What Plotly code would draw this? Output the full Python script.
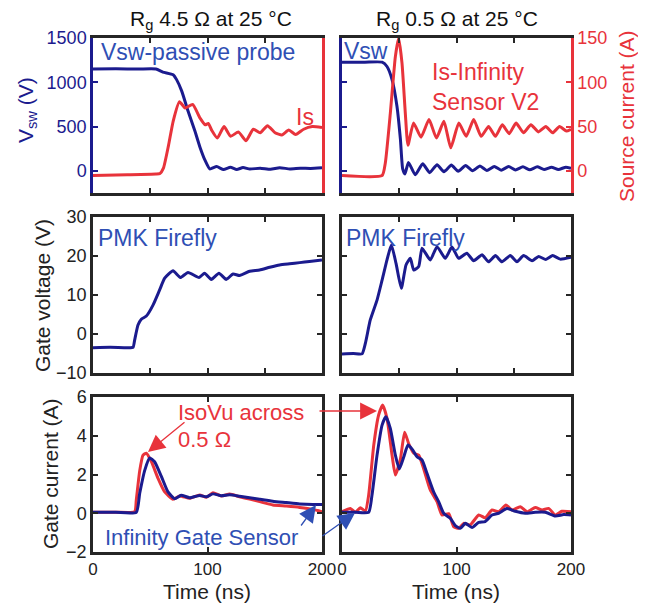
import plotly.graph_objects as go

# page has an 8px body margin: reference pixel coords are shifted by 8
OFF = 8
W, H = 638, 596
NAVY = '#1b1b8e'
RED = '#e8333b'
TXTBLUE = '#2f4fb4'
FRAME = '#262626'
FONT = 'Liberation Sans, Arial, sans-serif'

# ---------------- data (time in ns) ----------------
# Top-left: Vsw (V) and Is (A), Rg 4.5 ohm
t_vsw_l = [0, 20, 40, 55, 61, 70, 73, 77.5, 83, 89, 93.5, 98, 102, 108, 114, 120, 125.5, 131, 137, 146, 155, 163, 172, 181, 190, 200]
v_vsw_l = [1150, 1152, 1150, 1150, 1115, 1085, 1030, 900, 675, 450, 265, 115, 22, 48, 15, 40, 15, 37, 20, 30, 17, 35, 22, 30, 28, 35]
t_is_l = [0, 30, 55, 58.5, 61.5, 66, 70, 75.5, 80.5, 87, 93.5, 98, 100.7, 103.6, 108.6, 114.4, 120.2, 127, 133.6, 140, 146, 152.4, 159, 165, 171, 177, 184, 191.5, 200]
i_is_l = [-5.3, -4.5, -3.6, -3, 3, 29, 56, 78, 71, 75, 59.5, 52, 53.5, 46, 37, 50, 39, 44, 34, 47, 43, 51, 43, 40.6, 46, 41, 47, 50, 49]

# Top-right: Vsw (V) and Is (A), Rg 0.5 ohm
t_vsw_r = [0, 20, 35, 39.3, 43.7, 48, 51, 53, 55, 58, 64, 70.5, 76.5, 83, 89, 95.5, 101.5, 108, 114, 120.5, 126.5, 133, 139, 145.5, 151.5, 158, 164, 170.5, 176.5, 183, 189, 195.5, 200]
v_vsw_r = [1227, 1227, 1227, 1178, 1030, 730, 358, 22, -35, 95, -45, 80, -20, 70, -10, 65, -5, 60, 0, 55, 5, 50, 8, 48, 10, 45, 12, 45, 15, 42, 15, 42, 30]
t_is_r = [0, 35, 37.8, 42.2, 46.6, 49.5, 52.4, 55.3, 57.6, 62.5, 69, 76, 82.5, 89, 95, 102, 108.5, 115, 121.5, 128, 134, 140, 146, 152, 158.5, 165, 171.5, 178, 184, 190, 196, 200]
i_is_r = [-5.3, -5.3, 8.7, 65, 129, 150, 121.6, 65, 29, 54, 38, 58, 37, 56, 26, 54, 39, 58, 39, 50, 39, 52, 42, 54, 43, 52, 44, 50, 43, 50, 45, 47]

# Middle: gate voltage (V)
t_vg_l = [0, 15, 30, 35, 36.4, 39.3, 42.2, 46.6, 52.4, 58.2, 62.6, 69.9, 76.3, 83, 92.6, 97.5, 103.3, 110, 116.4, 122.3, 128, 136.8, 145.5, 154.3, 163, 171.7, 180.5, 189, 200]
vg_l = [-3.5, -3.4, -3.5, -3.4, -1.5, 2.3, 3.8, 4.6, 7.4, 11.3, 14.3, 16.2, 14.5, 15.8, 14.5, 15.6, 14.0, 15.6, 14.0, 15.4, 15.0, 16.1, 16.4, 17.1, 17.7, 18.0, 18.3, 18.6, 19.0]
t_vg_r = [0, 10, 17.5, 20.4, 24.7, 30.6, 35, 39.3, 43.1, 47.2, 51.8, 55.9, 59.7, 62.6, 67, 69.9, 77.1, 83, 90.2, 96, 101.9, 109, 115, 122.3, 128, 134, 139.7, 147, 152.8, 158.6, 166, 171.7, 178, 184, 190.6, 200]
vg_r = [-5.1, -5.0, -5.1, -2.4, 3.6, 8.7, 13.8, 19.0, 22.8, 18.1, 11.7, 17.7, 19.4, 16.4, 17.3, 22.0, 19.0, 22.4, 19.4, 22.3, 19.4, 20.7, 18.8, 20.3, 18.5, 20.1, 18.5, 20.1, 18.5, 20.1, 18.8, 19.9, 19.1, 20.1, 19.2, 19.7]

# Bottom: gate current (A)
t_ig_l_red = [0, 20, 36.4, 37.8, 40.8, 43.7, 46.6, 51, 56.8, 62.6, 69.9, 75.7, 84.4, 93.2, 99, 104.8, 112, 119.4, 128, 136.8, 145.5, 157, 168.8, 180.5, 192, 200]
ig_l_red = [0.05, 0.05, 0.08, 0.68, 2.2, 3.0, 3.1, 2.66, 1.8, 1.1, 0.72, 0.89, 0.77, 0.94, 0.82, 1.06, 0.89, 0.99, 0.85, 0.73, 0.6, 0.43, 0.37, 0.3, 0.2, 0.08]
t_ig_l_blue = [0, 20, 37.8, 40.8, 45.1, 49.5, 53.8, 59.7, 65.5, 71.3, 77, 84.4, 93.2, 99, 104.8, 112, 119.4, 128, 136.8, 145.5, 157, 168.8, 180.5, 192, 200]
ig_l_blue = [0.05, 0.05, 0.05, 1.03, 2.2, 2.85, 2.66, 1.9, 1.1, 0.75, 0.93, 0.8, 0.92, 0.85, 1.0, 0.9, 0.95, 0.88, 0.8, 0.72, 0.62, 0.55, 0.48, 0.45, 0.45]
t_ig_r_red = [0, 7.3, 11.6, 16, 20.4, 23.3, 27.7, 32, 35.5, 39.3, 43.7, 46.6, 51, 54.7, 58.2, 62.6, 67, 71.3, 77.1, 83, 87.3, 93.2, 97.5, 101.9, 106.3, 112, 119.4, 125, 131, 136.8, 143.2, 148.5, 155.7, 161.6, 168.8, 174.7, 180.5, 186.3, 192, 200]
ig_r_red = [0.08, 0.25, 0.05, 0.28, 0.12, 0.94, 3.5, 5.07, 5.59, 4.9, 3.0, 1.97, 2.8, 4.18, 3.6, 3.1, 3.0, 2.3, 1.2, 0.6, -0.09, -0.02, -0.69, -0.78, -0.52, -0.6, -0.09, -0.23, 0.17, 0.08, 0.43, 0.17, 0.34, 0.08, 0.3, 0.17, 0.25, -0.09, 0.1, 0.08]
t_ig_r_blue = [0, 12, 23.3, 26.2, 30.6, 35, 38.4, 42.2, 46.6, 50, 53.9, 57.6, 61.7, 65.5, 69.9, 74.2, 80, 84.4, 88.8, 94.6, 99, 103.3, 107.7, 113.5, 119.4, 125, 131, 136.8, 144, 151.4, 160, 168.8, 177.6, 186.3, 193.6, 200]
ig_r_blue = [0.05, 0.05, 0.05, 0.94, 3.0, 4.55, 4.98, 4.38, 3.0, 2.28, 2.9, 3.52, 3.27, 2.92, 2.75, 2.06, 1.11, 0.6, 0.0, -0.26, -0.64, -0.78, -0.52, -0.74, -0.47, -0.43, -0.09, 0.0, 0.25, 0.1, 0.0, 0.05, 0.05, -0.14, -0.07, -0.09]

# axis tick values
vsw_ticks = [0, 500, 1000, 1500]
is_ticks = [0, 50, 100, 150]
vg_ticks = [-10, 0, 10, 20, 30]
ig_ticks = [-2, 0, 2, 4, 6]
time_ticks = [0, 100, 200]
minor_time_ticks = [0, 50, 100, 150, 200]

# ---------------- figure ----------------
fig = go.Figure()

def line(color):
    return dict(color=color, width=3, shape='spline', smoothing=0.5)

fig.add_trace(go.Scatter(x=t_vsw_l, y=v_vsw_l, xaxis='x', yaxis='y', mode='lines', line=line(NAVY)))
fig.add_trace(go.Scatter(x=t_is_l, y=i_is_l, xaxis='x', yaxis='y2', mode='lines', line=line(RED)))
fig.add_trace(go.Scatter(x=t_vsw_r, y=v_vsw_r, xaxis='x2', yaxis='y3', mode='lines', line=line(NAVY)))
fig.add_trace(go.Scatter(x=t_is_r, y=i_is_r, xaxis='x2', yaxis='y4', mode='lines', line=line(RED)))
fig.add_trace(go.Scatter(x=t_vg_l, y=vg_l, xaxis='x3', yaxis='y5', mode='lines', line=line(NAVY)))
fig.add_trace(go.Scatter(x=t_vg_r, y=vg_r, xaxis='x4', yaxis='y6', mode='lines', line=line(NAVY)))
fig.add_trace(go.Scatter(x=t_ig_l_red, y=ig_l_red, xaxis='x5', yaxis='y7', mode='lines', line=line(RED)))
fig.add_trace(go.Scatter(x=t_ig_l_blue, y=ig_l_blue, xaxis='x5', yaxis='y7', mode='lines', line=line(NAVY)))
fig.add_trace(go.Scatter(x=t_ig_r_red, y=ig_r_red, xaxis='x6', yaxis='y8', mode='lines', line=line(RED)))
fig.add_trace(go.Scatter(x=t_ig_r_blue, y=ig_r_blue, xaxis='x6', yaxis='y8', mode='lines', line=line(NAVY)))

def dx(a, b):
    return [(a - OFF) / W, (b - OFF) / W]

def dy(top, bot):
    return [1 - (bot - OFF) / H, 1 - (top - OFF) / H]

XL, XR = dx(93, 322), dx(342, 571)
YT, YM, YB = dy(38, 193), dy(217, 373), dy(397, 552)

tickfont = dict(family=FONT, size=17, color='#222')

def xax(domain, anchor, tickvals, labels=False):
    return dict(domain=domain, anchor=anchor, range=[0, 200], showline=True, linecolor=FRAME, linewidth=2.5,
                mirror='ticks', ticks='inside', ticklen=5, tickwidth=2, tickcolor=FRAME,
                tickvals=tickvals, showticklabels=labels,
                showgrid=False, zeroline=False, tickfont=tickfont, automargin=False, fixedrange=True)

def yax(domain, anchor, rng, tickvals, labels, color=FRAME, mirror='ticks'):
    return dict(domain=domain, anchor=anchor, range=rng, tickvals=tickvals, showticklabels=labels,
                showline=True, linecolor=color, linewidth=2.5, mirror=mirror, ticks='inside', ticklen=5,
                tickwidth=2, tickcolor=color, showgrid=False, zeroline=False,
                tickfont=dict(family=FONT, size=18, color=color if color != FRAME else '#222'),
                automargin=False, fixedrange=True)

layout = dict(
    width=W, height=H, margin=dict(l=0, r=0, t=0, b=0), template='none',
    paper_bgcolor='white', plot_bgcolor='white', showlegend=False,
    font=dict(family=FONT, size=18, color='#222'),
    xaxis=xax(XL, 'y', minor_time_ticks), xaxis2=xax(XR, 'y3', minor_time_ticks),
    xaxis3=xax(XL, 'y5', minor_time_ticks), xaxis4=xax(XR, 'y6', minor_time_ticks),
    xaxis5=xax(XL, 'y7', time_ticks, True), xaxis6=xax(XR, 'y8', time_ticks, True),
    yaxis=yax(YT, 'x', [-250, 1500], vsw_ticks, True, NAVY, False),
    yaxis3=yax(YT, 'x2', [-250, 1500], vsw_ticks, False, NAVY, False),
    yaxis5=yax(YM, 'x3', [-10, 30], vg_ticks, True),
    yaxis6=yax(YM, 'x4', [-10, 30], vg_ticks, False),
    yaxis7=yax(YB, 'x5', [-2, 6], ig_ticks, True),
    yaxis8=yax(YB, 'x6', [-2, 6], ig_ticks, False),
)
y2 = yax(YT, 'x', [-25, 150], is_ticks, False, RED, False)
y2.update(overlaying='y', side='right', ticks='')
y4 = yax(YT, 'x2', [-25, 150], is_ticks, True, RED, False)
y4.update(overlaying='y3', side='right')
layout['yaxis2'] = y2
layout['yaxis4'] = y4
fig.update_layout(**layout)

def P(px, py):
    return (px - OFF) / W, 1 - (py - OFF) / H

anns = []

def text(s, px, py, color='#222', size=20, xanchor='center', angle=0, align='left'):
    x, y = P(px, py)
    anns.append(dict(text=s, x=x, y=y, xref='paper', yref='paper', showarrow=False, xanchor=xanchor,
                     yanchor='middle', textangle=angle, align=align,
                     font=dict(family=FONT, size=size, color=color)))

def arrow(color, tip, tail):
    x, y = P(*tip)
    anns.append(dict(text='', x=x, y=y, xref='paper', yref='paper', showarrow=True,
                     ax=tail[0] - tip[0], ay=tail[1] - tip[1], arrowhead=2, arrowsize=2.6,
                     arrowwidth=1.3, arrowcolor=color, standoff=0))

# titles
text('R<sub>g</sub> 4.5 Ω at 25 °C', 211, 20, '#111', 21)
text('R<sub>g</sub> 0.5 Ω at 25 °C', 457, 20, '#111', 21)
# axis titles
text('V<sub>sw</sub> (V)', 27, 110, NAVY, 21, angle=-90)
text('Gate voltage (V)', 42, 296, '#222', 21, angle=-90)
text('Gate current (A)', 50, 474, '#222', 21, angle=-90)
text('Source current (A)', 627, 116, RED, 21, angle=-90)
text('Time (ns)', 207, 591, '#222', 21)
text('Time (ns)', 456, 591, '#222', 21)
# in-plot labels
text('Vsw-passive probe', 99, 52, TXTBLUE, 23, 'left')
text('Is', 294, 117, RED, 23, 'left')
text('Vsw', 342, 51, TXTBLUE, 23, 'left')
text('Is-Infinity<br>Sensor V2', 430, 87, RED, 23, 'left')
text('PMK Firefly', 96, 238, TXTBLUE, 23, 'left')
text('PMK Firefly', 344, 238, TXTBLUE, 23, 'left')
text('IsoVu across', 176, 412, RED, 22, 'left')
text('0.5 Ω', 176, 439, RED, 22, 'left')
text('Infinity Gate Sensor', 103, 537, TXTBLUE, 22, 'left')
# arrows
arrow(RED, (148, 452), (186, 421))
arrow(RED, (377, 411), (318, 411))
arrow(TXTBLUE, (316, 505), (300, 527))
arrow(TXTBLUE, (355, 513), (321, 537))

fig.update_layout(annotations=anns)
fig.write_html('out.html')
